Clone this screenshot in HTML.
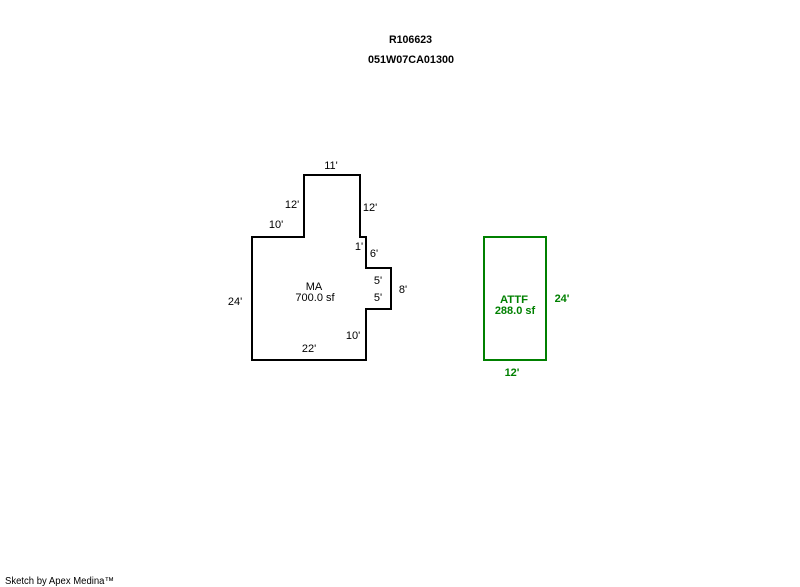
<!DOCTYPE html>
<html>
<head>
<meta charset="utf-8">
<style>
html,body{margin:0;padding:0;background:#fff;width:800px;height:587px;overflow:hidden}
svg{display:block;shape-rendering:crispEdges}
text{font-family:"Liberation Sans",Arial,sans-serif;font-size:11px;text-anchor:middle;fill:#000}
.b{font-weight:bold}
.g{fill:#008000;font-weight:bold}
</style>
</head>
<body>
<svg width="800" height="587" viewBox="0 0 800 587" xmlns="http://www.w3.org/2000/svg">
<text class="b" x="410.5" y="43" textLength="43" lengthAdjust="spacingAndGlyphs">R106623</text>
<text class="b" x="411" y="63" textLength="86" lengthAdjust="spacingAndGlyphs">051W07CA01300</text>

<polygon points="252,237 304,237 304,175 360,175 360,237 366,237 366,268 391,268 391,309 366,309 366,360 252,360" fill="none" stroke="#000" stroke-width="2"/>
<text x="331" y="169">11'</text>
<text x="292" y="208">12'</text>
<text x="370" y="211">12'</text>
<text x="276" y="228">10'</text>
<text x="359" y="250">1'</text>
<text x="374" y="257">6'</text>
<text x="378" y="284">5'</text>
<text x="378" y="301">5'</text>
<text x="403" y="293">8'</text>
<text x="235" y="305">24'</text>
<text x="353" y="339">10'</text>
<text x="309" y="352">22'</text>
<text x="314" y="290">MA</text>
<text x="315" y="301">700.0 sf</text>

<rect x="484" y="237" width="62" height="123" fill="none" stroke="#008000" stroke-width="2"/>
<text class="g" x="514" y="303" textLength="28" lengthAdjust="spacingAndGlyphs">ATTF</text>
<text class="g" x="515" y="314">288.0 sf</text>
<text class="g" x="562" y="302">24'</text>
<text class="g" x="512" y="376">12'</text>

<text x="5" y="584" style="font-size:10px;text-anchor:start" textLength="109" lengthAdjust="spacingAndGlyphs">Sketch by Apex Medina™</text>
</svg>
</body>
</html>
